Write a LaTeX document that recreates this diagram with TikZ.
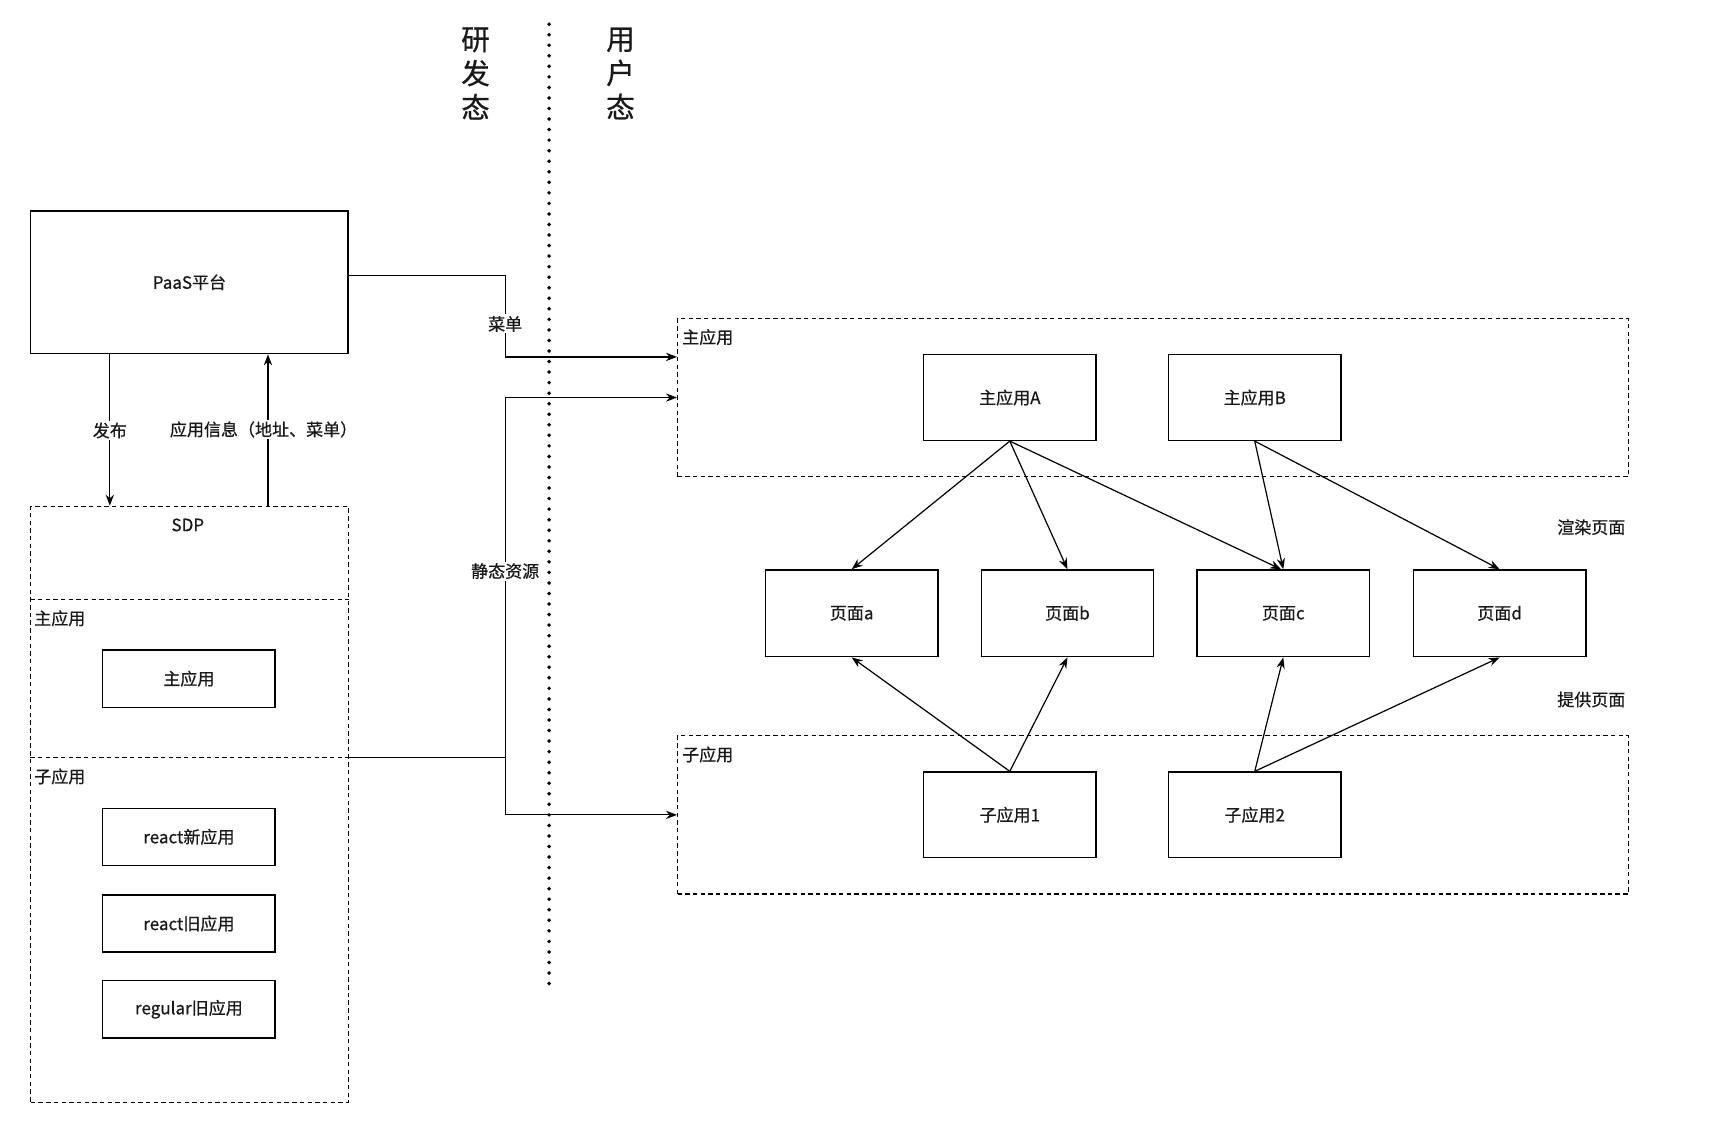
\documentclass[tikz,border=0pt]{standalone}
\usepackage{fontspec}
\setmainfont{Noto Sans CJK SC}[FakeBold=0.6]
\usetikzlibrary{arrows.meta,calc}
\newcommand{\fsnorm}{\fontsize{15.5}{18}\selectfont}
\newcommand{\fsbig}{\fontsize{26}{31}\selectfont}
\tikzset{
  box/.style={draw, line width=1.3pt, minimum width=157pt, minimum height=52pt, inner sep=0pt, font=\fsnorm, text=black!90},
  bigbox/.style={box, minimum height=78pt},
  grp/.style={draw, dash pattern=on 4pt off 3pt, line width=1.1pt, inner sep=0pt},
  arr/.style={-{Stealth[length=10pt,width=7.5pt]}, line width=1.1pt},
  plain/.style={line width=1.1pt},
  lbl/.style={fill=white, inner sep=1.5pt, font=\fsnorm, text=black!90},
  txt/.style={inner sep=0pt, font=\fsnorm, text=black!90},
  dotline/.style={line width=3.6pt, dash pattern=on 0pt off 9.6pt, line cap=round},
}
\begin{document}
\begin{tikzpicture}[x=1pt,y=-1pt]
\useasboundingbox[fill=white] (0,0) rectangle (1568,1022);

% titles
\node[inner sep=0pt, align=center, font=\fsbig, text=black!90] (dev) at (433,67) {研\\发\\态};
\node[inner sep=0pt, align=center, font=\fsbig, text=black!90] (user) at (565,67) {用\\户\\态};

% left side
\node[box, minimum width=289pt, minimum height=130pt] (paas) at (172.5,257) {PaaS平台};
\node[grp, minimum width=289pt, minimum height=543pt] (sdp) at (172.5,732.5) {};
\node[txt] (sdptitle) at (171,478) {SDP};
\draw[dash pattern=on 4pt off 3pt, line width=1.1pt] (sdp.west |- 0,546) -- (sdp.east |- 0,546);
\draw[dash pattern=on 4pt off 3pt, line width=1.1pt] (sdp.west |- 0,690) -- (sdp.east |- 0,690);
\node[txt, anchor=west] (sdpmainlbl) at (31,563) {主应用};
\node[txt, anchor=west] (sdpsublbl) at (31,707) {子应用};
\node[box] (smain) at (172,618) {主应用};
\node[box] (rnew) at (172,762) {react新应用};
\node[box] (rold) at (172,841) {react旧应用};
\node[box] (regold) at (172,919) {regular旧应用};

% publish / info arrows
\draw[arr] (paas.south -| 100,0) -- (sdp.north -| 100,0);
\node[lbl] (pubLbl) at (100,392) {发布};
\draw[arr] (sdp.north -| 244,0) -- (paas.south -| 244,0);
\node[lbl] (infoLbl) at (240,391) {应用信息（地址、菜单）};

% right groups
\node[grp, minimum width=866pt, minimum height=144pt] (maingrp) at (1050,362) {};
\node[txt, anchor=west] (maingrplbl) at (621,307) {主应用};
\node[grp, minimum width=866pt, minimum height=144pt] (subgrp) at (1050,742) {};
\node[txt, anchor=west] (subgrplbl) at (621,687) {子应用};

\node[bigbox] (mA) at (919.5,362) {主应用A};
\node[bigbox] (mB) at (1142.5,362) {主应用B};
\node[bigbox, minimum height=79pt] (pa) at (775.5,558.5) {页面a};
\node[bigbox, minimum height=79pt] (pb) at (972,558.5) {页面b};
\node[bigbox, minimum height=79pt] (pc) at (1168.5,558.5) {页面c};
\node[bigbox, minimum height=79pt] (pd) at (1365.5,558.5) {页面d};
\node[bigbox] (s1) at (919.5,742) {子应用1};
\node[bigbox] (s2) at (1142.5,742) {子应用2};

\node[txt] (render) at (1449,480) {渲染页面};
\node[txt] (provide) at (1449,637) {提供页面};

% menu connector
\coordinate (menuk) at (460,251);
\draw[arr] (paas.east |- menuk) -- (menuk) -- (460,325) -- (maingrp.west |- 0,325);
\node[lbl] (menuLbl) at (460,295) {菜单};

% static resources connector
\coordinate (sdpsub) at (sdp.east |- 0,690);
\coordinate (stk) at (460,690);
\draw[plain] (sdpsub) -- (stk);
\draw[arr] (stk) |- (maingrp.west);
\draw[arr] (stk) |- (subgrp.west);
\node[lbl] (staticLbl) at (460,520) {静态资源};

% render arrows
\draw[arr] (mA.south) -- (pa.north);
\draw[arr] (mA.south) -- (pb.north);
\draw[arr] (mA.south) -- ($(pc.north)+(-2,0)$);
\draw[arr] (mB.south) -- (pc.north);
\draw[arr] (mB.south) -- (pd.north);
% provide arrows
\draw[arr] (s1.north) -- (pa.south);
\draw[arr] (s1.north) -- (pb.south);
\draw[arr] (s2.north) -- (pc.south);
\draw[arr] (s2.north) -- (pd.south);

% divider
\coordinate (divtop) at (500,22);
\coordinate (divbot) at (500,905);
\draw[dotline] (divtop) -- (divbot);
\end{tikzpicture}
\end{document}
